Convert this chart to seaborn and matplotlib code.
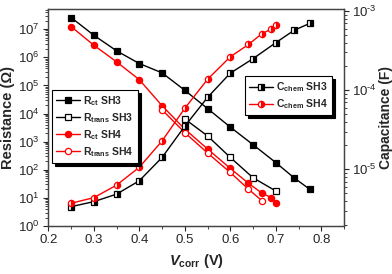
import matplotlib
matplotlib.use("Agg")
import matplotlib.pyplot as plt
import matplotlib.ticker as mticker
import numpy as np
import seaborn as sns

sns.set_style('ticks')
plt.rcParams['font.family'] = ['Liberation Sans', 'DejaVu Sans']
plt.rcParams['mathtext.fontset'] = 'custom'
plt.rcParams['mathtext.rm'] = 'Liberation Sans'
plt.rcParams['mathtext.bf'] = 'Liberation Sans:bold'
plt.rcParams['mathtext.it'] = 'Liberation Sans:italic:bold'

# data
v_sh3 = [0.25, 0.30, 0.35, 0.40, 0.45, 0.50, 0.55, 0.60, 0.65, 0.70, 0.74, 0.775]
rct_sh3 = [2.6e7, 6.1e6, 1.7e6, 6.0e5, 2.8e5, 6.7e4, 1.5e4, 3.3e3, 780, 180, 52, 20]
cchem_sh3 = [3.37e-6, 3.9e-6, 4.85e-6, 7.16e-6, 1.41e-5, 3.5e-5, 8.1e-5, 1.64e-4,
             2.5e-4, 3.98e-4, 5.7e-4, 7.0e-4]

v_rtrans_sh3 = [0.50, 0.55, 0.60, 0.65, 0.70]
rtrans_sh3 = [6.4e3, 1.6e3, 275, 52, 17.6]

v_sh4 = [0.25, 0.30, 0.35, 0.40, 0.45, 0.50, 0.55, 0.60, 0.64, 0.67, 0.69, 0.70]
rct_sh4 = [1.24e7, 2.7e6, 6.9e5, 1.6e5, 1.9e4, 2.8e3, 550, 112, 33, 14.6, 10.3, 6.7]
cchem_sh4 = [3.72e-6, 4.38e-6, 6.3e-6, 1.06e-5, 2.28e-5, 5.9e-5, 1.37e-4, 2.64e-4,
             3.78e-4, 5.2e-4, 5.9e-4, 6.6e-4]

v_rtrans_sh4 = [0.45, 0.50, 0.55, 0.60, 0.64, 0.67]
rtrans_sh4 = [1.35e4, 2.1e3, 395, 80, 20.4, 7.8]

fig = plt.figure(figsize=(3.92, 2.74), dpi=100)
ax = fig.add_axes([0.1232, 0.1752, 0.7544, 0.7918])
ax2 = ax.twinx()

common = dict(linewidth=1.0, markersize=4.5, markeredgewidth=0.9)

sns.lineplot(x=v_sh3, y=rct_sh3, ax=ax, color='black', marker='s',
             markeredgecolor='black', label=r'R$_{\mathbf{ct}}$ SH3', **common)
sns.lineplot(x=v_rtrans_sh3, y=rtrans_sh3, ax=ax, color='black', marker='s',
             markerfacecolor='white', markeredgecolor='black',
             label=r'R$_{\mathbf{trans}}$ SH3', **common)
sns.lineplot(x=v_sh4, y=rct_sh4, ax=ax, color='red', marker='o',
             markeredgecolor='red', label=r'R$_{\mathbf{ct}}$ SH4', **common)
sns.lineplot(x=v_rtrans_sh4, y=rtrans_sh4, ax=ax, color='red', marker='o',
             markerfacecolor='white', markeredgecolor='red',
             label=r'R$_{\mathbf{trans}}$ SH4', **common)

sns.lineplot(x=v_sh3, y=cchem_sh3, ax=ax2, color='black', marker='s',
             fillstyle='right', markerfacecoloralt='white', markeredgecolor='black',
             label=r'C$_{\mathbf{chem}}$ SH3', **common)
sns.lineplot(x=v_sh4, y=cchem_sh4, ax=ax2, color='red', marker='o',
             fillstyle='right', markerfacecoloralt='white', markeredgecolor='red',
             label=r'C$_{\mathbf{chem}}$ SH4', **common)

ax.set_yscale('log')
ax2.set_yscale('log')
ax.set_xlim(0.2, 0.85)
ax.set_ylim(1, 5.2e7)
ax2.set_ylim(1.92e-6, 1.06e-3)


def pow10(val, pos):
    e = int(round(np.log10(val)))
    if e < 0:
        return r'$10^{\text{-}%d}$' % (-e)
    return r'$10^{%d}$' % e


ax.xaxis.set_major_locator(mticker.MultipleLocator(0.1))
ax.xaxis.set_minor_locator(mticker.MultipleLocator(0.05))
ax.xaxis.set_major_formatter(mticker.FormatStrFormatter('%.1f'))
ax.yaxis.set_major_locator(mticker.LogLocator(base=10, numticks=20))
ax.yaxis.set_minor_locator(mticker.LogLocator(base=10, subs=range(2, 10), numticks=20))
ax.yaxis.set_minor_formatter(mticker.NullFormatter())
ax2.yaxis.set_major_locator(mticker.LogLocator(base=10, numticks=20))
ax2.yaxis.set_major_formatter(mticker.FuncFormatter(pow10))
ax2.yaxis.set_minor_locator(mticker.LogLocator(base=10, subs=range(2, 10), numticks=20))
ax2.yaxis.set_minor_formatter(mticker.NullFormatter())

for a in (ax, ax2):
    a.tick_params(which='major', length=3.5, width=0.8, labelsize=9.5, direction='out', pad=2.5)
    a.tick_params(which='minor', length=2, width=0.6, direction='out')
    for s in a.spines.values():
        s.set_linewidth(0.9)
        s.set_color('#444444')

ax.set_ylabel('Resistance (Ω)', fontsize=10.5, fontweight='bold', labelpad=2)
ax2.set_ylabel('Capacitance (F)', fontsize=10, fontweight='bold')
ax2.yaxis.set_label_coords(1.117, 0.5)
ax.set_xlabel(r'$V_{\mathbf{corr}}$ (V)', fontsize=10.5, fontweight='bold', labelpad=4)

h1, l1 = ax.get_legend_handles_labels()
h2, l2 = ax2.get_legend_handles_labels()
ax.get_legend().remove()
ax2.get_legend().remove()

leg_kw = dict(frameon=True, fancybox=False, edgecolor='black', framealpha=1,
              shadow={'color': 'black', 'alpha': 1},
              prop={'weight': 'bold', 'size': 7.5}, handlelength=2.3,
              handletextpad=0.3, borderaxespad=0, labelspacing=0.3,
              borderpad=0.4)
leg1 = ax2.legend(h1, l1, loc='upper left', bbox_to_anchor=(0.0125, 0.627), **leg_kw)
leg1.get_frame().set_linewidth(0.8)
ax2.add_artist(leg1)
leg2 = ax2.legend(h2, l2, loc='upper left', bbox_to_anchor=(0.665, 0.691), **leg_kw)
leg2.get_frame().set_linewidth(0.8)

fig.savefig('out.png', dpi=100)
